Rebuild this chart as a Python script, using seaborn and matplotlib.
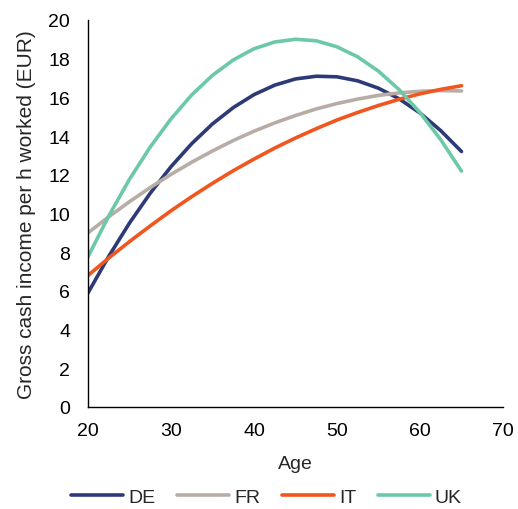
import matplotlib
matplotlib.use("Agg")
import matplotlib.pyplot as plt
import pandas as pd
import seaborn as sns

ages = [20, 22.5, 25, 27.5, 30, 32.5, 35, 37.5, 40, 42.5, 45,
        47.5, 50, 52.5, 55, 57.5, 60, 62.5, 65]
de = [5.90, 7.79, 9.51, 11.05, 12.42, 13.61, 14.63, 15.47, 16.14, 16.63,
      16.95, 17.09, 17.06, 16.85, 16.47, 15.92, 15.19, 14.28, 13.20]
fr = [9.00, 9.83, 10.61, 11.34, 12.02, 12.65, 13.23, 13.77, 14.25, 14.68,
      15.06, 15.40, 15.68, 15.91, 16.10, 16.23, 16.31, 16.35, 16.33]
it = [6.80, 7.70, 8.55, 9.36, 10.14, 10.87, 11.56, 12.21, 12.81, 13.38,
      13.90, 14.38, 14.83, 15.22, 15.58, 15.90, 16.18, 16.41, 16.60]
uk = [7.77, 9.88, 11.77, 13.44, 14.89, 16.13, 17.14, 17.93, 18.51, 18.86,
      19.00, 18.92, 18.61, 18.09, 17.35, 16.39, 15.21, 13.81, 12.19]

countries = ["DE", "FR", "IT", "UK"]
colors = {"DE": "#2E3A78", "FR": "#B8ADA6", "IT": "#F0561E", "UK": "#6CC9A8"}

df = pd.concat([
    pd.DataFrame({"age": ages, "value": vals, "country": c})
    for c, vals in zip(countries, [de, fr, it, uk])
])


def main():
    sns.set_style("white")
    plt.rcParams["font.family"] = ["Liberation Sans", "DejaVu Sans"]

    fig = plt.figure(figsize=(5.18, 5.10), dpi=100)
    ax = fig.add_axes([0.17, 0.2, 0.801, 0.759])

    sns.lineplot(data=df, x="age", y="value", hue="country", hue_order=countries,
                 palette=colors, linewidth=2.6, ax=ax)

    ax.set_xlim(20, 70)
    ax.set_ylim(0, 20)
    ax.set_xticks(range(20, 71, 10))
    ax.set_yticks(range(0, 21, 2))
    ax.tick_params(axis="both", length=0, labelsize=14, colors="#000000")
    ax.tick_params(axis="y", pad=13)
    ax.tick_params(axis="x", pad=11)
    ax.set_xlabel("Age", fontsize=14, labelpad=11)
    ax.set_ylabel("Gross cash income per h worked (EUR)", fontsize=15, labelpad=9)

    for s in ["top", "right"]:
        ax.spines[s].set_visible(False)
    for s in ["left", "bottom"]:
        ax.spines[s].set_color("#000000")
        ax.spines[s].set_linewidth(1.0)

    ax.legend(loc="upper center", bbox_to_anchor=(0.43, -0.165), ncol=4,
              frameon=False, fontsize=14, handlelength=2.7, columnspacing=1.1,
              handletextpad=0.25, title=None)

    fig.savefig("out.png", dpi=100)
    plt.close(fig)


if __name__ == "__main__":
    main()
